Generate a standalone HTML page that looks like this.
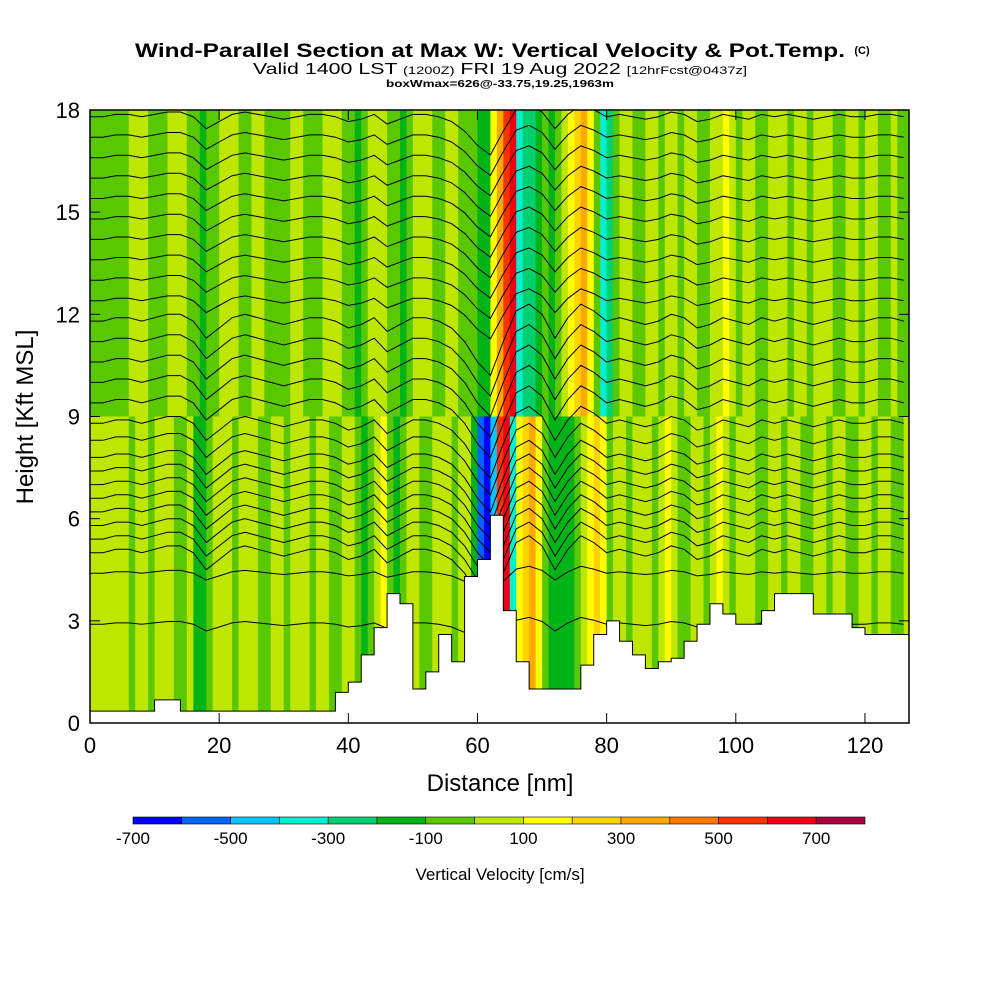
<!DOCTYPE html>
<html><head><meta charset="utf-8"><style>
body{margin:0;background:#fff;font-family:"Liberation Sans",sans-serif}
svg text{font-family:"Liberation Sans",sans-serif}
</style></head><body>
<svg id="c" width="1000" height="1000" viewBox="0 0 1000 1000">
<defs><clipPath id="pc"><rect x="90" y="110" width="819" height="613"/></clipPath></defs>
<rect width="1000" height="1000" fill="#fff"/>
<g>
<text x="490" y="57" font-size="19" font-weight="bold" text-anchor="middle" textLength="710" lengthAdjust="spacingAndGlyphs">Wind-Parallel Section at Max W: Vertical Velocity &amp; Pot.Temp.</text>
<text x="862" y="54" font-size="11" font-weight="bold" text-anchor="middle">(C)</text>
<text x="500" y="74" font-size="16" text-anchor="middle" textLength="494" lengthAdjust="spacingAndGlyphs">Valid 1400 LST <tspan font-size="11">(1200Z)</tspan> FRI 19 Aug 2022 <tspan font-size="11">[12hrFcst@0437z]</tspan></text>
<text x="500" y="87" font-size="10" font-weight="bold" text-anchor="middle" textLength="228" lengthAdjust="spacingAndGlyphs">boxWmax=626@-33.75,19.25,1963m</text>
</g>
<g clip-path="url(#pc)">
<g id="field"></g>
<g id="cont"></g>
<g id="terr"></g>
</g>
<rect x="90" y="110" width="819" height="613" fill="none" stroke="#000" stroke-width="1.5"/>
<g id="axes"></g>
<text x="500" y="791" font-size="24" text-anchor="middle">Distance [nm]</text>
<text transform="translate(33,417) rotate(-90)" font-size="24" text-anchor="middle">Height [Kft MSL]</text>
<g id="cbar"></g>
<text x="500" y="880" font-size="17" text-anchor="middle">Vertical Velocity [cm/s]</text>
</svg>
<script>
const upperW=[-50,-50,-50,-50,-50,-50,50,50,50,-50,-50,-50,50,50,50,-50,-50,-150,-50,-50,50,50,50,-50,-50,50,50,-50,-50,-50,-50,50,50,-50,-50,-50,50,50,50,-50,-50,-150,-50,50,50,50,-50,-50,-150,-50,50,50,50,-50,-50,50,50,-50,-50,-50,-150,-150,150,350,550,650,-350,-250,-250,-150,-50,-150,-50,50,150,250,350,150,-50,-350,-250,-50,50,50,-50,-50,50,50,-50,50,50,-50,50,50,-50,-50,50,50,150,50,-50,50,50,-50,-50,50,50,50,-50,50,50,-50,50,50,50,-50,-50,50,50,-50,50,50,-50,-50,50,-50,-50];
const lowerW=[50,50,50,50,50,50,-50,50,50,-50,50,50,50,-50,-50,50,-150,-150,-50,50,50,50,-50,50,50,50,-50,-50,50,50,-50,50,50,50,-50,50,50,-50,-50,50,50,-50,-150,-50,50,150,-50,-150,-50,50,50,-50,-50,50,50,50,-50,50,50,-150,-550,-650,-450,550,650,-350,150,250,350,150,-50,-150,-150,-150,-150,-50,50,150,250,150,-50,50,50,-50,50,50,50,-50,50,150,50,-50,-50,50,50,-50,50,150,50,-50,50,50,50,-50,-50,50,50,-50,50,50,-50,-50,50,50,-50,50,50,-50,-50,50,50,-50,50,50,-50,-50,50];
const terrainKft=[0.35,0.35,0.35,0.35,0.35,0.68,0.68,0.35,0.35,0.35,0.35,0.35,0.35,0.35,0.35,0.35,0.35,0.35,0.35,0.9,1.2,2.0,2.8,3.8,3.5,1.0,1.5,2.6,1.8,4.3,4.8,6.1,3.3,1.8,1.0,1.0,1.0,1.0,1.7,2.6,3.0,2.4,2.0,1.6,1.8,1.9,2.4,2.9,3.5,3.2,2.9,2.9,3.3,3.8,3.8,3.8,3.2,3.2,3.2,2.8,2.6,2.6,2.6,2.6];
const thetaLevels=[2.9,4.4,5.0,5.4,5.8,6.2,6.6,7.0,7.4,7.8,8.3,8.8,9.4,10.0,10.6,11.2,11.8,12.4,13.0,13.6,14.2,14.8,15.4,16.0,16.6,17.2,17.8];
const thetaDisp=[0,0,0.1,0.1,0,0.1,0.2,0.2,0,-0.5,-0.2,0.1,0.2,0.1,0,-0.1,0,0.1,0.1,0,-0.2,-0.1,0.1,-0.3,-0.1,0.1,0.1,0,-0.2,-0.6,-1.2,-1.6,-0.6,0.3,0.5,0.2,-0.5,0.1,0.5,0.3,0,0.1,0,-0.1,0,0.2,0.1,-0.2,-0.1,0.1,0,-0.1,0.1,0,0.1,0,-0.1,0,0.1,0,0,0.1,0.1,0];
const cbColors=["#0000ff","#0064ff","#00c8ff","#00f0d0","#00d070","#00b418","#5ac800","#bee600","#ffff00","#ffd200","#ffa800","#ff7800","#ff3200","#f00014","#aa0040"];
const cbLabels=[-700,-500,-300,-100,100,300,500,700];
const xTicks=[0,20,40,60,80,100,120];
const yTicks=[0,3,6,9,12,15,18];
const NS='http://www.w3.org/2000/svg';
const X=nm=>90+nm*6.458, Y=k=>723-k*(613/18);
function color(v){let i=Math.floor((v+700)/100);i=Math.max(0,Math.min(14,i));return cbColors[i];}
function mk(t,a,p){const e=document.createElementNS(NS,t);for(const k in a)e.setAttribute(k,a[k]);p.appendChild(e);return e;}
const field=document.getElementById('field');
for(let i=0;i<upperW.length;i++){
 const x0=X(i),x1=Math.min(X(i+1),909);
 const r1=mk('rect',{x:x0,y:Y(18),width:x1-x0+0.5,height:Y(9)-Y(18)+0.5,fill:color(upperW[i])},field);
 
 
 const r2=mk('rect',{x:x0,y:Y(9),width:x1-x0+0.5,height:Y(0)-Y(9),fill:color(lowerW[i])},field);
 
 
}
const cont=document.getElementById('cont');
thetaLevels.forEach(L=>{
 let d='';
 for(let j=0;j<thetaDisp.length;j++){
  const amp=L<5?0.4:(L>12?0.7:1);
  const x=Math.min(X(j*2),909);
  d+=(j?'L':'M')+x.toFixed(1)+','+Y(L+thetaDisp[j]*amp).toFixed(1);
 }
 const p=mk('path',{d:d,fill:'none',stroke:'#000','stroke-width':1},cont);
 
 
});
const terr=document.getElementById('terr');
let td='M'+X(0)+','+Y(0);
terrainKft.forEach((h,j)=>{const x0=X(j*2),x1=Math.min(X(j*2+2),909);td+='L'+x0+','+Y(h)+'L'+x1+','+Y(h);});
td+='L909,'+Y(0)+'Z';
const tp=mk('path',{d:td,fill:'#fff',stroke:'#000','stroke-width':1},terr);


const axes=document.getElementById('axes');
xTicks.forEach(v=>{
 mk('line',{x1:X(v),x2:X(v),y1:723,y2:713,stroke:'#000'},axes);
 mk('line',{x1:X(v),x2:X(v),y1:110,y2:120,stroke:'#000'},axes);
 const t=mk('text',{x:X(v),y:753,'font-size':22,'text-anchor':'middle'},axes);t.textContent=v;
 
 
});
yTicks.forEach(v=>{
 mk('line',{x1:90,x2:100,y1:Y(v),y2:Y(v),stroke:'#000'},axes);
 mk('line',{x1:909,x2:899,y1:Y(v),y2:Y(v),stroke:'#000'},axes);
 const t=mk('text',{x:80,y:Y(v)+8,'font-size':22,'text-anchor':'end'},axes);t.textContent=v;
 
 
});
const cb=document.getElementById('cbar');
cbColors.forEach((c,i)=>{
 const r=mk('rect',{x:133+i*48.8,y:817,width:48.8,height:7,fill:c,stroke:'#000','stroke-width':0.6},cb);
 
 
});
cbLabels.forEach(v=>{
 const t=mk('text',{x:133+(v+700)/100*48.8,y:844,'font-size':17,'text-anchor':'middle'},cb);t.textContent=v;
 
 
});
</script>
</body></html>
